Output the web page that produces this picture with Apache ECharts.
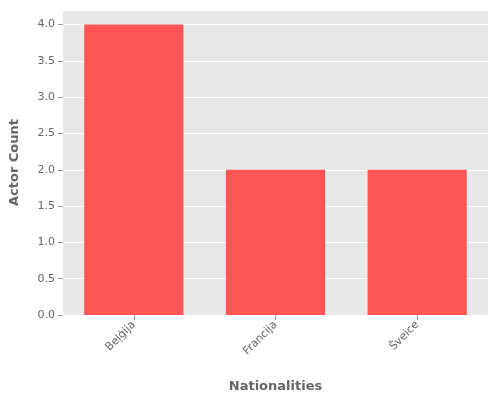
<!DOCTYPE html>
<html><head><meta charset="utf-8">
<script src="https://cdn.jsdelivr.net/npm/echarts@6/dist/echarts.min.js"></script>
<style>html,body{margin:0;padding:0;background:#fff}#c{width:500px;height:400px}</style>
</head><body><div id="c"></div>
<script>
const categories = ["Beļģija", "Francija", "Šveice"];
const actorCounts = [4, 2, 2];
const chart = echarts.init(document.getElementById('c'));
chart.setOption({
  animation: false,
  textStyle: { fontFamily: 'DejaVu Sans' },
  grid: { left: 62, right: 12, top: 10, bottom: 85, show: true, backgroundColor: '#E8E8E8', borderWidth: 0 },
  xAxis: {
    type: 'category', data: categories,
    name: 'Nationalities', nameLocation: 'middle', nameGap: 65,
    nameTextStyle: { fontSize: 13, color: '#666', fontWeight: 'bold' },
    axisLine: { show: false }, axisTick: { show: true, lineStyle: { color: '#999' } , alignWithLabel: true},
    axisLabel: { rotate: 45, color: '#666', fontSize: 11 },
    splitLine: { show: false }
  },
  yAxis: {
    type: 'value', min: 0, max: 4.2, interval: 0.5,
    name: 'Actor Count', nameLocation: 'middle', nameGap: 42,
    nameTextStyle: { fontSize: 13, color: '#666', fontWeight: 'bold' },
    axisLine: { show: false }, axisTick: { show: true, lineStyle: { color: '#999' } },
    axisLabel: { color: '#666', fontSize: 11, formatter: v => v.toFixed(1), showMaxLabel: false },
    splitLine: { lineStyle: { color: '#fff', width: 1 } }
  },
  series: [{ type: 'bar', data: actorCounts, barWidth: '70%', itemStyle: { color: '#FF5555' } }]
});
</script></body></html>
